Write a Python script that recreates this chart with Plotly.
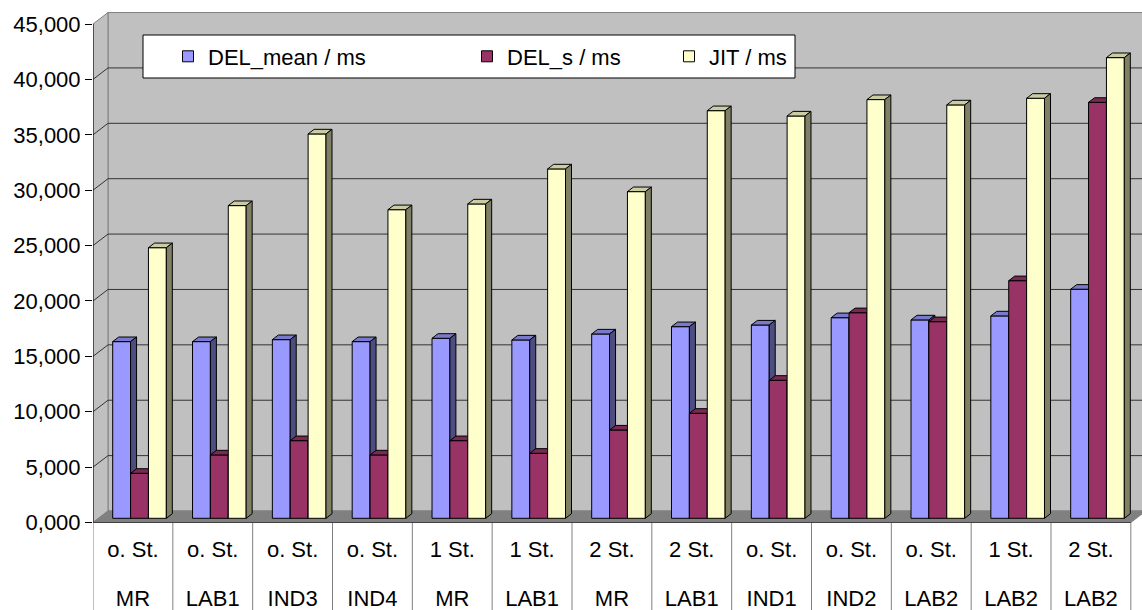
import plotly.graph_objects as go

# ---- data -------------------------------------------------------------
row1 = ["o. St.", "o. St.", "o. St.", "o. St.", "1 St.", "1 St.", "2 St.",
        "2 St.", "o. St.", "o. St.", "o. St.", "1 St.", "2 St."]
row2 = ["MR", "LAB1", "IND3", "IND4", "MR", "LAB1", "MR",
        "LAB1", "IND1", "IND2", "LAB2", "LAB2", "LAB2"]

del_mean = [15.95, 15.95, 16.13, 15.95, 16.25, 16.10, 16.64,
            17.30, 17.45, 18.11, 17.91, 18.27, 20.68]
del_s = [4.06, 5.72, 7.01, 5.72, 7.01, 5.87, 7.97,
         9.48, 12.46, 18.56, 17.75, 21.45, 37.55]
jit = [24.43, 28.23, 34.70, 27.86, 28.38, 31.54, 29.49,
       36.80, 36.32, 37.80, 37.32, 37.92, 41.59]

series = [del_mean, del_s, jit]
series_names = ["DEL_mean / ms", "DEL_s / ms", "JIT / ms"]
y_ticks = [0, 5, 10, 15, 20, 25, 30, 35, 40, 45]

# ---- styling ----------------------------------------------------------
front_colors = ["#9999FF", "#993366", "#FFFFCC"]
top_colors = ["#7A7ACC", "#7A2952", "#CCCCA3"]
side_colors = ["#4D4D80", "#4D1A33", "#808066"]
FONT = "Liberation Sans, Arial, sans-serif"
FS = 22

W, H = 1142, 610
ML = 93
X_MAX = 13.14
Y_MIN, Y_MAX = -7.90, 47.17
px_x = (W - ML) / X_MAX          # pixels per category
px_y = H / (Y_MAX - Y_MIN)        # pixels per ms
DX = 15 / px_x                    # depth of the 3-D box (x part)
DY = 11.5 / px_y                  # depth of the 3-D box (y part)
Y_TOP = y_ticks[-1]
N = len(row2)

BAR_OFF = 0.178    # gap before the first bar of a group
BAR_W = 0.224      # width of one bar
FRONT_D = 0.365    # depth fraction of the bar front faces
BAR_D = 0.40       # depth fraction of the bar bodies
bdx, bdy = BAR_D * DX, BAR_D * DY
sx, sy = FRONT_D * DX, FRONT_D * DY


def px_to_paper_x(px):
    return (px - ML) / (W - ML)


def px_to_paper_y(py):
    return 1 - py / H


def path(points):
    return "M " + " L ".join(f"{x},{y}" for x, y in points) + " Z"


shapes = []
# back wall
shapes.append(dict(type="path", xref="x", yref="y", layer="below",
                   path=path([(DX, DY), (X_MAX + 1, DY),
                              (X_MAX + 1, Y_TOP + DY), (DX, Y_TOP + DY)]),
                   fillcolor="#C0C0C0", line=dict(color="#808080", width=1)))
# left wall
shapes.append(dict(type="path", xref="x", yref="y", layer="below",
                   path=path([(0, 0), (DX, DY), (DX, Y_TOP + DY), (0, Y_TOP)]),
                   fillcolor="#C0C0C0", line=dict(color="#808080", width=1)))
# floor
shapes.append(dict(type="path", xref="x", yref="y", layer="below",
                   path=path([(0, 0), (N, 0), (N + DX, DY), (DX, DY)]),
                   fillcolor="#808080", line=dict(color="#808080", width=1)))
# gridlines on the walls
for v in y_ticks[1:-1]:
    shapes.append(dict(type="line", xref="x", yref="y", layer="below",
                       x0=0, y0=v, x1=DX, y1=v + DY,
                       line=dict(color="#333333", width=1)))
    shapes.append(dict(type="line", xref="x", yref="y", layer="below",
                       x0=DX, y0=v + DY, x1=X_MAX + 1, y1=v + DY,
                       line=dict(color="#333333", width=1)))
# front edge of the value axis
shapes.append(dict(type="line", xref="x", yref="y", layer="above",
                   x0=0, y0=0, x1=0, y1=Y_TOP,
                   line=dict(color="#000000", width=1)))
# category table
for i in range(N + 1):
    shapes.append(dict(type="line", xref="x", yref="y", layer="above",
                       x0=i, y0=Y_MIN, x1=i, y1=0,
                       line=dict(color="#808080", width=1)))
shapes.append(dict(type="line", xref="x", yref="y", layer="above",
                   x0=0, y0=0, x1=N, y1=0,
                   line=dict(color="#404040", width=1)))
# legend frame
shapes.append(dict(type="rect", xref="paper", yref="paper", layer="above",
                   x0=px_to_paper_x(143), x1=px_to_paper_x(795),
                   y0=px_to_paper_y(78), y1=px_to_paper_y(35),
                   fillcolor="#FFFFFF", line=dict(color="#000000", width=1)))

fig = go.Figure()

for s, values in enumerate(series):
    fx, fy, tx, ty, sxs, sys_ = [], [], [], [], [], []
    for i, v in enumerate(values):
        x0 = i + BAR_OFF + s * BAR_W + sx
        x1 = x0 + BAR_W
        y0 = sy
        y1 = sy + v
        fx += [x0, x1, x1, x0, x0, None]
        fy += [y0, y0, y1, y1, y0, None]
        tx += [x0, x1, x1 + bdx, x0 + bdx, x0, None]
        ty += [y1, y1, y1 + bdy, y1 + bdy, y1, None]
        sxs += [x1, x1 + bdx, x1 + bdx, x1, x1, None]
        sys_ += [y0, y0 + bdy, y1 + bdy, y1, y0, None]
    common = dict(mode="lines", fill="toself", showlegend=False,
                  hoverinfo="skip", line=dict(color="#000000", width=1))
    fig.add_trace(go.Scatter(x=fx, y=fy, fillcolor=front_colors[s], **common))
    fig.add_trace(go.Scatter(x=tx, y=ty, fillcolor=top_colors[s], **common))
    fig.add_trace(go.Scatter(x=sxs, y=sys_, fillcolor=side_colors[s], **common))

# empty trace so the second category row (xaxis2) gets drawn
fig.add_trace(go.Scatter(x=[None], y=[None], xaxis="x2", yaxis="y",
                         showlegend=False, hoverinfo="skip"))

# legend entries, one legend per entry so each can sit at its own spot
legend_ids = ["legend", "legend2", "legend3"]
legend_px = [168, 467, 669]
for s in range(3):
    fig.add_trace(go.Scatter(
        x=[None], y=[None], mode="markers", name=series_names[s],
        legend=legend_ids[s],
        marker=dict(symbol="square", size=11, color=front_colors[s],
                    line=dict(color="#000000", width=1))))

legend_common = dict(xanchor="left", yanchor="middle",
                     y=px_to_paper_y(56.5), bgcolor="rgba(0,0,0,0)",
                     borderwidth=0, font=dict(family=FONT, size=FS, color="#000"))

axis_font = dict(family=FONT, size=FS, color="#000")
cat_ticks = [i + 0.5 for i in range(N)]

fig.update_layout(
    width=W, height=H,
    margin=dict(l=ML, r=0, t=0, b=0, pad=0),
    paper_bgcolor="#FFFFFF", plot_bgcolor="#FFFFFF",
    separators=",.",
    hovermode=False,
    font=dict(family=FONT, size=FS, color="#000000"),
    shapes=shapes,
    legend=dict(x=px_to_paper_x(legend_px[0]), **legend_common),
    legend2=dict(x=px_to_paper_x(legend_px[1]), **legend_common),
    legend3=dict(x=px_to_paper_x(legend_px[2]), **legend_common),
    xaxis=dict(range=[0, X_MAX], anchor="free", position=(H - 522.5) / H,
               tickmode="array", tickvals=cat_ticks,
               ticktext=row1, ticks="", showline=False, showgrid=False,
               zeroline=False, ticklabelstandoff=11, tickfont=axis_font),
    xaxis2=dict(range=[0, X_MAX], overlaying="x", anchor="free",
                position=(H - 522.5) / H, side="bottom",
                tickmode="array", tickvals=cat_ticks,
                ticktext=row2, ticks="", showline=False, showgrid=False,
                zeroline=False, ticklabelstandoff=60, tickfont=axis_font),
    yaxis=dict(range=[Y_MIN, Y_MAX], tickmode="array", tickvals=y_ticks,
               tickformat=".3f", ticks="outside", ticklen=7,
               tickcolor="#000000", showgrid=False, zeroline=False,
               showline=False, tickfont=axis_font),
)

fig.write_html("out.html")
